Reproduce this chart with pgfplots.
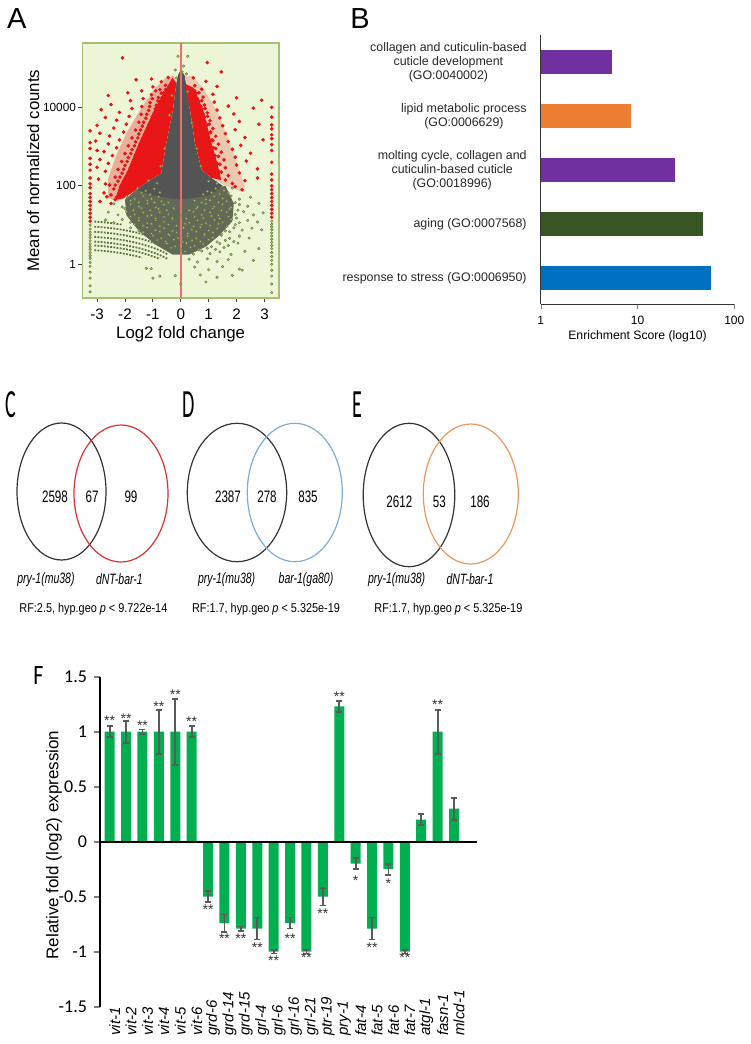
\documentclass[border=0pt]{standalone}
\usepackage{fontspec}
\setmainfont{Liberation Sans}
\newfontfamily\calib{Carlito}
\usepackage{pgfplots}
\pgfplotsset{compat=1.18}

\definecolor{abg}{RGB}{236,245,214}
\definecolor{aframe}{RGB}{165,192,115}
\definecolor{acore}{RGB}{84,84,84}
\definecolor{ablob}{RGB}{100,104,88}
\definecolor{ared}{RGB}{232,22,22}
\definecolor{aline}{RGB}{240,110,110}
\definecolor{agfill}{RGB}{170,200,115}
\definecolor{agdraw}{RGB}{95,120,55}
\definecolor{aband}{RGB}{90,115,60}
\definecolor{bpurple}{RGB}{112,48,160}
\definecolor{borange}{RGB}{237,125,49}
\definecolor{bgreen}{RGB}{55,86,35}
\definecolor{bblue}{RGB}{0,112,192}
\definecolor{vred}{RGB}{220,50,50}
\definecolor{vblue}{RGB}{125,172,215}
\definecolor{vorange}{RGB}{236,150,92}
\definecolor{fgreen}{RGB}{0,176,80}
\definecolor{ferr}{RGB}{90,90,90}

\begin{document}
\begin{tikzpicture}
\useasboundingbox (0,0) rectangle (375pt,-522pt);

% panel letters
\node[font=\fontsize{14.5}{16}\selectfont] at (8.35pt,-9.4pt) {A};
\node[font=\fontsize{14.5}{16}\selectfont] at (180pt,-9.4pt) {B};
\node[font=\calib\fontsize{20}{22}\selectfont, xscale=0.5] at (5.5pt,-202.5pt) {C};
\node[font=\calib\fontsize{20}{22}\selectfont, xscale=0.5] at (94.4pt,-202.5pt) {D};
\node[font=\calib\fontsize{20}{22}\selectfont, xscale=0.5] at (178.75pt,-202.5pt) {E};
\node[font=\calib\fontsize{14}{16}\selectfont, xscale=0.78] at (19.2pt,-337.9pt) {F};

% ---------------- A: MA plot
\begin{axis}[
  at={(41.15pt,-148.85pt)}, anchor=south west, scale only axis,
  width=98.35pt, height=127.2pt,
  xmin=-3.53, xmax=3.52, ymin=-0.85, ymax=5.63,
  axis background/.style={fill=abg},
  axis line style={draw=aframe, line width=0.8pt},
  xtick={-3,-2,-1,0,1,2,3}, xticklabels={-3,-2,-1,0,1,2,3},
  ytick={0,2,4}, yticklabels={1,100,10000},
  tick align=outside, tick pos=left, major tick length=2pt,
  tick style={black!75, line width=0.4pt},
  x tick label style={font=\fontsize{7.6}{9}\selectfont},
  y tick label style={font=\fontsize{5.9}{7}\selectfont, inner sep=1pt},
  xlabel={Log2 fold change}, ylabel={Mean of normalized counts},
  xlabel style={font=\fontsize{8.4}{10}\selectfont, at={(axis description cs:0.5,-0.143)}, anchor=center},
  ylabel style={font=\fontsize{8.4}{10}\selectfont, at={(axis description cs:-0.25,0.5)}, anchor=center},
]
% dense cloud of low-count genes
\addplot[fill=ablob, draw=none] coordinates {
 (1.6,2.0) (1.9,1.55) (1.85,1.1) (1.4,0.75) (0.9,0.45) (0.3,0.25) (-0.3,0.25) (-0.9,0.5)
 (-1.5,0.85) (-1.95,1.25) (-2.0,1.65) (-1.6,1.9) (-1.0,1.9) (0,1.85) (1.0,1.9)};
% dense grey core
\addplot[fill=acore, draw=none] coordinates {
 (0.0,4.95) (0.1,4.85) (0.15,4.79) (0.33,3.94) (0.51,3.09) (0.75,2.41) (1.1,2.2) (1.5,2.0)
 (1.0,1.75) (0.0,1.65) (-1.0,1.75) (-1.6,1.9) (-1.1,2.15) (-0.7,2.33) (-0.52,3.09)
 (-0.28,3.94) (-0.16,4.62) (-0.08,4.85)};
% count bands (low counts)
\addplot[aband, line width=0.9pt, dash pattern=on 0.9pt off 0.7pt, smooth] coordinates {(-3.1,0.36) (-2.6,0.33) (-2.1,0.28) (-1.6,0.21) (-1.4,0.17)};
\addplot[aband, line width=0.9pt, dash pattern=on 0.9pt off 0.7pt, smooth] coordinates {(-3.1,0.48) (-2.6,0.45) (-2.1,0.40) (-1.6,0.33) (-1.2,0.25) (-0.8,0.15)};
\addplot[aband, line width=0.9pt, dash pattern=on 0.9pt off 0.7pt, smooth] coordinates {(-3.1,0.58) (-2.6,0.55) (-2.1,0.50) (-1.6,0.43) (-1.2,0.35) (-0.8,0.25) (-0.45,0.13)};
\addplot[aband, line width=0.9pt, dash pattern=on 0.9pt off 0.7pt, smooth] coordinates {(-3.1,0.70) (-2.6,0.67) (-2.1,0.62) (-1.6,0.55) (-1.2,0.47) (-0.8,0.37) (-0.45,0.25)};
\addplot[aband, line width=0.9pt, dash pattern=on 0.9pt off 0.7pt, smooth] coordinates {(-3.1,0.83) (-2.6,0.80) (-2.1,0.75) (-1.6,0.68) (-1.2,0.60) (-0.8,0.50) (-0.45,0.38)};
\addplot[aband, line width=0.9pt, dash pattern=on 0.9pt off 0.7pt, smooth] coordinates {(-3.1,0.96) (-2.6,0.93) (-2.1,0.88) (-1.6,0.81) (-1.2,0.73)};
\addplot[aband, line width=0.9pt, dash pattern=on 0.9pt off 0.7pt, smooth] coordinates {(-3.1,1.09) (-2.6,1.06) (-2.1,1.01)};
% non-significant genes
\addplot[agdraw, only marks, mark=*, mark size=0.65pt, mark options={fill=agfill, line width=0.2pt}] coordinates {
 (-1.15,2.13) (-0.85,2.07) (1.0,2.12) (1.3,2.06)
 (-1.55,1.94) (-1.25,1.87) (-0.95,1.92) (0.95,1.86) (1.25,1.93) (1.55,1.88) (1.85,1.94)
 (-1.95,1.73) (-1.65,1.66) (-1.35,1.74) (-1.05,1.67) (-0.8,1.72) (0.9,1.65) (1.2,1.73) (1.5,1.68) (1.8,1.74) (2.1,1.66) (2.5,1.71)
 (-2.4,1.54) (-2.1,1.46) (-1.8,1.53) (-1.5,1.47) (-1.2,1.55) (-0.9,1.45) (-0.6,1.52) (0.6,1.46) (0.9,1.54) (1.2,1.47) (1.5,1.53) (1.8,1.45) (2.1,1.52) (2.4,1.48) (2.8,1.55)
 (-2.6,1.33) (-2.25,1.26) (-1.95,1.34) (-1.65,1.27) (-1.35,1.32) (-1.05,1.25) (-0.75,1.33) (-0.45,1.28) (0.45,1.34) (0.75,1.26) (1.05,1.32) (1.35,1.25) (1.65,1.33) (1.95,1.27) (2.25,1.34) (2.6,1.26) (2.95,1.31)
 (-2.7,1.13) (-2.4,1.06) (-2.1,1.14) (-1.8,1.07) (-1.5,1.12) (-1.2,1.05) (-0.9,1.13) (-0.6,1.08) (-0.3,1.14) (0.3,1.06) (0.6,1.12) (0.9,1.05) (1.2,1.13) (1.5,1.07) (1.8,1.14) (2.1,1.06) (2.4,1.12) (2.75,1.08)
 (-1.8,0.93) (-1.5,0.86) (-1.2,0.94) (-0.9,0.87) (-0.6,0.92) (-0.3,0.85) (0.1,0.93) (0.4,0.88) (0.7,0.94) (1.0,0.86) (1.3,0.92) (1.6,0.85) (1.9,0.93) (2.2,0.87) (2.55,0.92) (2.9,0.88)
 (-1.0,0.73) (-0.7,0.66) (-0.4,0.74) (-0.1,0.67) (0.25,0.72) (0.55,0.65) (0.85,0.73) (1.15,0.68) (1.45,0.74) (1.75,0.66) (2.1,0.72) (2.45,0.67)
 (-0.5,0.53) (-0.2,0.46) (0.2,0.54) (0.5,0.47) (0.8,0.52) (1.1,0.45) (1.4,0.53) (1.7,0.48) (2.05,0.54)
 (0.15,0.33) (0.45,0.26) (0.75,0.34) (1.05,0.27) (1.4,0.32) (1.8,0.25) (2.3,0.33)
 (0.3,0.13) (0.6,0.06) (0.95,0.14) (1.3,0.07) (1.7,0.12)
 (0.5,-0.07) (1.0,-0.14) (1.5,-0.06) (2.1,-0.12)
 (0.7,-0.27) (1.3,-0.33) (1.85,-0.28) (-1.0,-0.35) (-0.75,-0.3) (0.0,-0.5) (0.9,-0.45) (2.2,-0.15) (2.6,0.1) (2.8,0.4) (-1.24,-0.1) (-1.06,-0.11) (-0.2,-0.29)
 (-1.4,1.82) (-1.1,1.78) (-0.75,1.83) (0.8,1.78) (1.1,1.83) (1.4,1.79) (1.7,1.82)
 (-1.8,1.62) (-1.5,1.58) (-1.2,1.63) (-0.95,1.57) (-0.7,1.61) (-0.45,1.58) (0.5,1.62) (0.75,1.57) (1.05,1.63) (1.35,1.58) (1.65,1.61) (1.95,1.57)
 (-2.0,1.42) (-1.7,1.38) (-1.4,1.43) (-1.1,1.37) (-0.8,1.41) (-0.5,1.38) (-0.25,1.43) (0.3,1.37) (0.55,1.42) (0.85,1.38) (1.15,1.43) (1.45,1.37) (1.75,1.41) (2.05,1.38)
 (-1.8,1.22) (-1.5,1.18) (-1.2,1.23) (-0.9,1.17) (-0.6,1.21) (-0.3,1.18) (0.0,1.23) (0.2,1.17) (0.5,1.21) (0.8,1.18) (1.1,1.23) (1.4,1.17) (1.7,1.21) (2.0,1.18)
 (-1.65,1.02) (-1.35,0.98) (-1.05,1.03) (-0.75,0.97) (-0.45,1.01) (-0.15,0.98) (0.15,1.03) (0.45,0.97) (0.75,1.01) (1.05,0.98) (1.35,1.03) (1.65,0.97) (1.95,1.01)
 (-1.35,0.82) (-1.05,0.78) (-0.75,0.83) (-0.45,0.77) (-0.15,0.81) (0.25,0.78) (0.55,0.83) (0.85,0.77) (1.15,0.81) (1.45,0.78) (1.75,0.83)
 (-0.85,0.62) (-0.55,0.58) (-0.25,0.63) (0.05,0.57) (0.4,0.61) (0.7,0.58) (1.0,0.63) (1.3,0.57) (1.6,0.61) (1.9,0.58)
 (-0.35,0.42) (0.0,0.38) (0.35,0.43) (0.65,0.37) (0.95,0.41) (1.25,0.38) (1.55,0.43)
 (-0.2,4.95) (0.1,5.05) (0.05,4.9) (-0.1,5.3) (0.25,5.3) (0.2,4.85) (-0.15,4.75)
 (-3.25,1.0) (-3.25,0.9) (-3.25,0.82) (-3.25,0.75) (-3.25,0.68) (-3.25,0.6) (-3.25,0.52) (-3.25,0.45) (-3.25,0.38) (-3.25,0.3) (-3.25,0.22) (-3.25,0.15) (-3.25,0.05) (-3.25,-0.05) (-3.25,-0.2) (-3.25,-0.35) (-3.25,-0.55) (-3.25,-0.7)
 (3.26,1.1) (3.26,1.02) (3.26,0.95) (3.26,0.88) (3.26,0.8) (3.26,0.72) (3.26,0.64) (3.26,0.56) (3.26,0.48) (3.26,0.4) (3.26,0.3) (3.26,0.2) (3.26,0.1) (3.26,0.0) (3.26,-0.15) (3.26,-0.3) (3.26,-0.5) (3.26,-0.72)
};
% significant genes: densely scattered zones
\addplot[fill=ared!32!abg, draw=none] coordinates {
 (-0.16,4.62) (-0.25,4.8) (-0.55,4.75) (-0.9,4.5) (-1.4,4.0) (-1.9,3.4) (-2.3,2.8) (-2.6,2.2)
 (-2.6,1.7) (-2.3,1.6) (-2.05,1.68) (-1.6,1.9) (-1.1,2.15) (-0.7,2.33) (-0.52,3.09) (-0.28,3.94)};
\addplot[fill=ared!20!abg, draw=none] coordinates {
 (0.15,4.79) (0.4,4.8) (0.8,4.5) (1.3,3.9) (1.7,3.2) (2.0,2.6) (2.3,2.0) (2.2,1.85) (1.6,2.0)
 (1.1,2.2) (0.75,2.41) (0.51,3.09) (0.33,3.94)};
\addplot[fill=ared, draw=none] coordinates {
 (-0.16,4.62) (-0.28,3.94) (-0.52,3.09) (-0.70,2.33) (-1.1,2.15) (-1.6,1.9) (-2.05,1.68) (-2.35,1.65)
 (-2.2,2.0) (-1.9,2.4) (-1.5,3.09) (-0.95,3.94) (-0.55,4.45) (-0.3,4.75)};
\addplot[fill=ared, draw=none] coordinates {
 (0.15,4.6) (0.33,3.94) (0.51,3.09) (0.75,2.41) (1.1,2.2) (1.45,2.15) (1.3,2.6) (1.1,3.09) (0.8,3.94) (0.45,4.5)};
% significant genes
\addplot[ared, only marks, mark=*, mark size=0.7pt] coordinates {
 (-0.45,4.76) (-0.7,4.65) (-1.05,4.72)
 (-0.55,4.56) (-0.75,4.45) (-1.0,4.52) (-1.4,4.42)
 (-0.62,4.36) (-0.8,4.25) (-1.05,4.32) (-1.35,4.22) (-1.9,4.37)
 (-0.72,4.16) (-0.88,4.05) (-1.1,4.12) (-1.4,4.02) (-1.8,4.17) (-2.5,4.07)
 (-0.8,3.96) (-0.95,3.85) (-1.15,3.92) (-1.42,3.82) (-1.75,3.97) (-2.2,3.87) (-2.85,3.94)
 (-0.9,3.76) (-1.05,3.65) (-1.25,3.72) (-1.5,3.62) (-1.85,3.77) (-2.3,3.67) (-2.7,3.74)
 (-1.02,3.56) (-1.18,3.45) (-1.38,3.52) (-1.62,3.42) (-1.95,3.57) (-2.4,3.47) (-3.0,3.54)
 (-1.15,3.36) (-1.3,3.25) (-1.5,3.32) (-1.75,3.22) (-2.05,3.37) (-2.55,3.27) (-2.9,3.34)
 (-1.27,3.16) (-1.42,3.05) (-1.62,3.12) (-1.88,3.02) (-2.2,3.17) (-2.6,3.07) (-3.05,3.14)
 (-1.4,2.96) (-1.55,2.85) (-1.75,2.92) (-2.0,2.82) (-2.3,2.97) (-2.75,2.87)
 (-1.52,2.76) (-1.68,2.65) (-1.88,2.72) (-2.12,2.62) (-2.45,2.77) (-2.9,2.67)
 (-1.65,2.56) (-1.8,2.45) (-2.0,2.52) (-2.25,2.42) (-2.6,2.57) (-3.0,2.47)
 (-1.78,2.36) (-1.92,2.25) (-2.1,2.32) (-2.35,2.22) (-2.7,2.37)
 (-1.9,2.16) (-2.05,2.05) (-2.25,2.12) (-2.55,2.02) (-2.95,2.17)
 (-2.0,1.96) (-2.18,1.85) (-2.4,1.92) (-2.75,1.82)
 (-2.12,1.76) (-2.35,1.65) (-2.65,1.72)
 (-0.55,4.45) (-0.7,4.36) (-0.9,4.42)
 (-0.67,4.25) (-0.82,4.16) (-1.02,4.22)
 (-0.77,4.05) (-0.92,3.96) (-1.12,4.02)
 (-0.87,3.85) (-1.02,3.76) (-1.22,3.82)
 (-0.98,3.65) (-1.13,3.56) (-1.33,3.62)
 (-1.09,3.45) (-1.24,3.36) (-1.44,3.42)
 (-1.19,3.25) (-1.34,3.16) (-1.54,3.22)
 (-1.31,3.05) (-1.46,2.96) (-1.66,3.02)
 (-1.44,2.85) (-1.59,2.76) (-1.79,2.82)
 (-1.57,2.65) (-1.72,2.56) (-1.92,2.62)
 (-1.7,2.45) (-1.85,2.36) (-2.05,2.42)
 (-1.83,2.25) (-1.98,2.16) (-2.18,2.22)
 (-2.0,2.05) (-2.15,1.96) (-2.35,2.02)
 (-2.15,1.8) (-2.3,1.71) (-2.5,1.77)
 (-2.09,5.26) (-1.6,4.7) (-2.6,4.3) (-2.7,2.05) (-2.9,1.6) (-2.5,1.55) (-3.0,2.9)
 (0.45,4.75) (0.9,4.66)
 (0.5,4.55) (0.75,4.46) (1.3,4.53)
 (0.55,4.35) (0.8,4.26) (1.15,4.33) (2.0,4.24)
 (0.65,4.15) (0.85,4.06) (1.2,4.13) (1.7,4.03) (2.9,4.18)
 (0.75,3.95) (0.95,3.86) (1.3,3.93) (1.9,3.83) (2.6,3.98)
 (0.85,3.75) (1.05,3.66) (1.4,3.73) (2.1,3.64)
 (0.95,3.55) (1.15,3.46) (1.5,3.53) (1.95,3.43) (2.8,3.57)
 (1.05,3.35) (1.25,3.26) (1.6,3.33) (2.3,3.23)
 (1.15,3.15) (1.35,3.06) (1.7,3.13) (2.15,3.03) (2.95,3.17)
 (1.25,2.95) (1.45,2.86) (1.85,2.93) (2.5,2.83)
 (1.35,2.75) (1.55,2.66) (1.95,2.73) (2.35,2.63)
 (1.4,2.55) (1.6,2.46) (2.0,2.53) (2.75,2.43)
 (1.45,2.35) (1.7,2.26) (2.1,2.33)
 (1.6,2.15) (1.85,2.06) (2.3,2.13)
 (1.95,1.98) (2.2,1.9)
 (0.5,4.42) (0.65,4.37) (0.6,4.22) (0.75,4.17) (0.72,4.02) (0.87,3.97) (0.81,3.82) (0.96,3.77)
 (0.87,3.62) (1.02,3.57) (0.92,3.42) (1.07,3.37) (0.97,3.22) (1.12,3.17) (1.02,3.02) (1.17,2.97)
 (1.08,2.82) (1.23,2.77) (1.15,2.62) (1.3,2.57) (1.22,2.42) (1.37,2.37)
 (1.45,4.9) (0.95,5.14) (2.75,2.2)
 (-3.25,3.4) (-3.25,3.1) (-3.25,2.95) (-3.25,2.7) (-3.25,2.55) (-3.25,2.4) (-3.25,2.2) (-3.25,2.05) (-3.25,1.95) (-3.25,1.8) (-3.25,1.7) (-3.25,1.6) (-3.25,1.5) (-3.25,1.4) (-3.25,1.3) (-3.25,1.2) (-3.25,1.1)
 (3.26,4.0) (3.26,3.75) (3.26,3.55) (3.26,3.45) (3.26,3.3) (3.26,3.2) (3.26,3.05) (3.26,2.9) (3.26,2.6) (3.26,2.3) (3.26,2.15) (3.26,2.0) (3.26,1.9) (3.26,1.8) (3.26,1.7) (3.26,1.6) (3.26,1.5) (3.26,1.4) (3.26,1.3) (3.26,1.2)
};
\addplot[agdraw, only marks, mark=*, mark size=0.65pt, mark options={fill=agfill, line width=0.2pt}] coordinates {
 (-0.32,4.3) (-0.4,3.8) (0.25,4.4) (0.4,3.6) (-0.58,2.95) (0.57,2.95) (-0.72,2.5) (0.72,2.5)};
\addplot[aline, line width=1.1pt] coordinates {(0,-0.85) (0,5.63)};
\end{axis}

% ---------------- B: GO enrichment
\begin{axis}[
  at={(270.35pt,-152.15pt)}, anchor=south west, scale only axis,
  width=96.8pt, height=134.65pt,
  xmode=log, xmin=1, xmax=100, ymin=0.513, ymax=5.5,
  axis x line*=bottom, axis y line*=left,
  axis line style={line width=0.6pt, black!80},
  xtick={1,10,100}, xticklabels={1,10,100}, xminorticks=false,
  tick align=outside, major tick length=2.5pt,
  x tick label style={font=\fontsize{6}{7}\selectfont},
  ytick={1,2,3,4,5}, ytick style={draw=none},
  yticklabels={{response to stress (GO:0006950)},{aging (GO:0007568)},
    {molting cycle, collagen and\\cuticulin-based cuticle\\(GO:0018996)},
    {lipid metabolic process\\(GO:0006629)},
    {collagen and cuticulin-based\\cuticle development\\(GO:0040002)}},
  y tick label style={font=\fontsize{6.2}{7.1}\selectfont, align=center, text=black!85, xshift=-1pt},
  xlabel={Enrichment Score (log10)},
  xlabel style={font=\fontsize{6.1}{7}\selectfont, at={(axis description cs:0.5,0)}, anchor=center, yshift=-15.9pt},
]
\addplot[xbar, bar width=12pt, bar shift=0pt, fill=bblue, draw=none] coordinates {(57,1)};
\addplot[xbar, bar width=12pt, bar shift=0pt, fill=bgreen, draw=none] coordinates {(47,2)};
\addplot[xbar, bar width=12pt, bar shift=0pt, fill=bpurple, draw=none] coordinates {(24.6,3)};
\addplot[xbar, bar width=12pt, bar shift=0pt, fill=borange, draw=none] coordinates {(8.6,4)};
\addplot[xbar, bar width=12pt, bar shift=0pt, fill=bpurple, draw=none] coordinates {(5.5,5)};
\end{axis}

% ---------------- C, D, E: Venn diagrams
\draw[black!80, line width=0.6pt] (30.75pt,-245.75pt) ellipse [x radius=22.25pt, y radius=34.25pt];
\draw[vred, line width=0.6pt] (60.5pt,-246.75pt) ellipse [x radius=23.5pt, y radius=34.25pt];
\draw[black!80, line width=0.6pt] (118.5pt,-246.25pt) ellipse [x radius=24.85pt, y radius=34.6pt];
\draw[vblue, line width=0.6pt] (147.4pt,-246.25pt) ellipse [x radius=23.75pt, y radius=34.6pt];
\draw[black!80, line width=0.6pt] (204.5pt,-247.5pt) ellipse [x radius=22.9pt, y radius=35.85pt];
\draw[vorange, line width=0.6pt] (235.4pt,-247pt) ellipse [x radius=23.75pt, y radius=35pt];

\begin{scope}[every node/.style={font=\fontsize{8.3}{10}\selectfont, xscale=0.7}]
\node at (27.5pt,-248.3pt) {2598};
\node at (46pt,-248.3pt) {67};
\node at (65.5pt,-248.3pt) {99};
\node at (114pt,-248.3pt) {2387};
\node at (133.5pt,-248.3pt) {278};
\node at (154pt,-248.3pt) {835};
\node at (199.7pt,-250.8pt) {2612};
\node at (219.7pt,-250.8pt) {53};
\node at (240pt,-250.8pt) {186};
\end{scope}
\begin{scope}[every node/.style={font=\itshape\fontsize{7.5}{9}\selectfont, xscale=0.7}]
\node at (23pt,-289.7pt) {pry-1(mu38)};
\node at (59.7pt,-289.7pt) {dNT-bar-1};
\node at (113.3pt,-289.7pt) {pry-1(mu38)};
\node at (153pt,-289.7pt) {bar-1(ga80)};
\node at (198.3pt,-289.7pt) {pry-1(mu38)};
\node at (235pt,-289.7pt) {dNT-bar-1};
\end{scope}
\begin{scope}[every node/.style={font=\fontsize{6.4}{8}\selectfont, xscale=0.85}]
\node at (46.7pt,-304.7pt) {RF:2.5, hyp.geo \textit{p} < 9.722e-14};
\node at (133pt,-304.7pt) {RF:1.7, hyp.geo \textit{p} < 5.325e-19};
\node at (224.2pt,-304.7pt) {RF:1.7, hyp.geo \textit{p} < 5.325e-19};
\end{scope}

% ---------------- F: qPCR
\begin{axis}[
  at={(50pt,-503.35pt)}, anchor=south west, scale only axis,
  width=188.5pt, height=165pt,
  xmin=-0.59, xmax=22.4, ymin=-1.5, ymax=1.5,
  axis x line*=bottom, axis y line*=left,
  x axis line style={draw=none}, y axis line style={line width=0.8pt},
  ytick={-1.5,-1,-0.5,0,0.5,1,1.5}, yticklabels={-1.5,-1,-0.5,0,0.5,1,1.5},
  y tick label style={font=\calib\fontsize{9}{10}\selectfont},
  ytick style={line width=0.8pt}, tick align=outside, major tick length=3pt,
  xtick={0,...,21}, xtick style={draw=none},
  xticklabels={vit-1,vit-2,vit-3,vit-4,vit-5,vit-6,grd-6,grd-14,grd-15,grl-4,grl-6,grl-16,grl-21,ptr-19,pry-1,fat-4,fat-5,fat-6,fat-7,atgl-1,fasn-1,mlcd-1},
  x tick label style={font=\itshape\fontsize{7.5}{9}\selectfont, xshift=2.5pt, yshift=-15pt, rotate=90, anchor=west},
  ylabel={Relative fold (log2) expression},
  ylabel style={font=\fontsize{8.5}{10}\selectfont, at={(axis description cs:-0.122,0.49)}, anchor=center},
]
\addplot[ybar, bar width=5pt, bar shift=0pt, fill=fgreen, draw=none,
  error bars/.cd, y dir=both, y explicit,
  error bar style={ferr, line width=0.9pt},
  error mark options={rotate=90, mark size=1.5pt, ferr, line width=0.8pt}]
  table[x=x, y=y, y error=e] {
x y e
0 1 0.05
1 1 0.1
2 1 0.02
3 1 0.2
4 1 0.3
5 1 0.05
6 -0.5 0.05
7 -0.74 0.08
8 -0.79 0.02
9 -0.79 0.1
10 -1.0 0.015
11 -0.74 0.05
12 -1.0 0.015
13 -0.5 0.08
14 1.23 0.05
15 -0.2 0.05
16 -0.79 0.1
17 -0.25 0.05
18 -1.0 0.015
19 0.2 0.05
20 1.0 0.2
21 0.3 0.1
};
\addplot[black, line width=0.8pt] coordinates {(-0.59,0) (22.4,0)};
\addplot[only marks, mark=none, nodes near coords, point meta=explicit symbolic,
  nodes near coords style={font=\fontsize{7}{8}\selectfont, anchor=center, inner sep=0pt, yshift=-1.5pt, text=black!80}]
  table[x=x, y=y, meta=s] {
x y s
0 1.127 **
1 1.148 **
2 1.08 **
3 1.255 **
4 1.364 **
5 1.115 **
6 -0.594 **
7 -0.857 **
8 -0.857 **
9 -0.94 **
10 -1.05 **
11 -0.85 **
12 -1.03 **
13 -0.63 **
14 1.345 **
15 -0.327 *
16 -0.934 **
17 -0.35 *
18 -1.03 **
20 1.27 **
};
\end{axis}
\end{tikzpicture}
\end{document}
